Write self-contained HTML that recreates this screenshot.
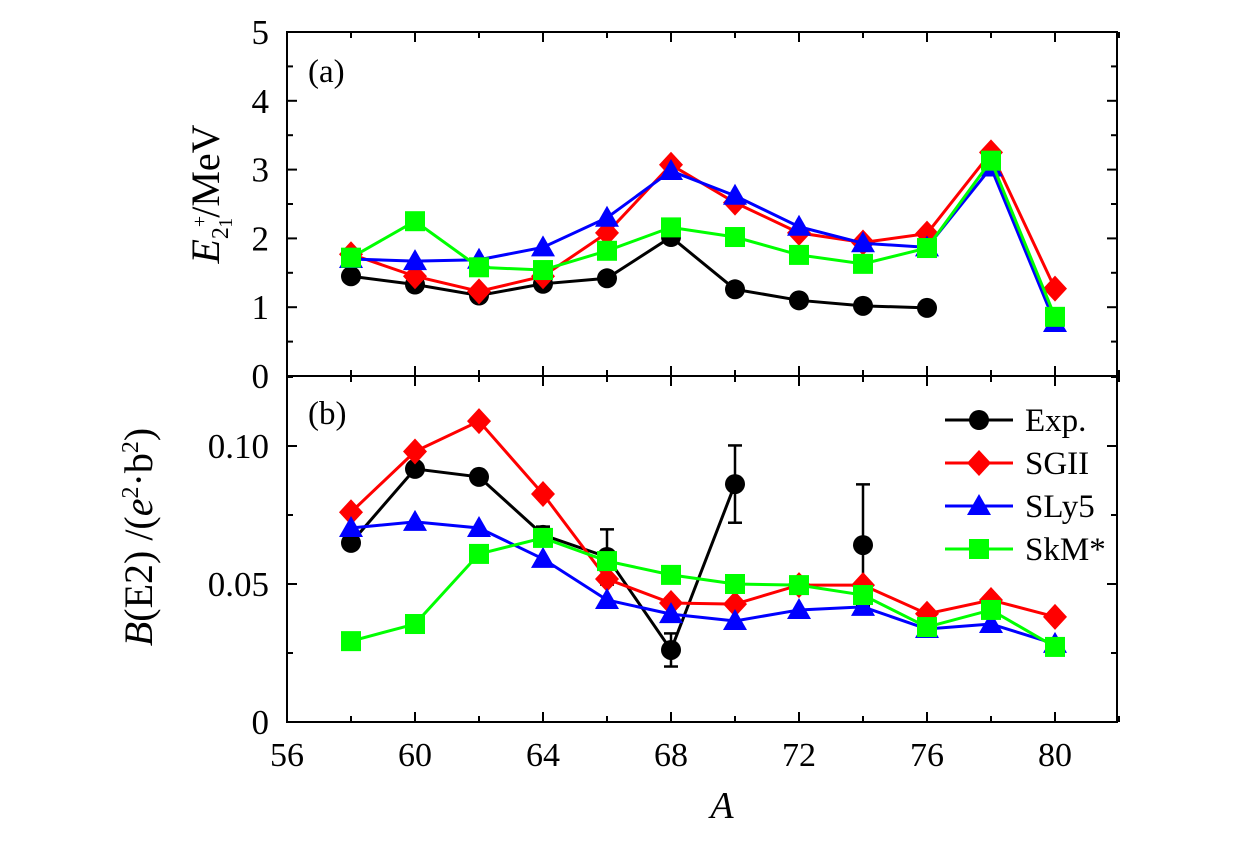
<!DOCTYPE html>
<html><head><meta charset="utf-8"><style>
body{margin:0;background:#fff;width:1260px;height:843px;overflow:hidden}
svg text{font-family:"Liberation Serif","DejaVu Serif",serif;fill:#000}
</style></head><body>
<svg id="chart" width="1260" height="843" xmlns="http://www.w3.org/2000/svg"></svg>
<script>
const xsA=[58,60,62,64,66,68,70,72,74,76,78,80];
const expA=[1.45,1.33,1.17,1.34,1.42,2.02,1.26,1.10,1.02,0.99,null,null];
const sgiiA=[1.77,1.45,1.23,1.45,2.08,3.07,2.52,2.08,1.94,2.07,3.25,1.27];
const sly5A=[1.70,1.67,1.69,1.87,2.30,2.98,2.62,2.17,1.93,1.87,3.03,0.77];
const skmA=[1.72,2.25,1.58,1.54,1.82,2.16,2.02,1.76,1.63,1.86,3.13,0.86];
const expB=[0.0649,0.0917,0.0888,0.0678,0.0598,0.0261,0.0862,null,0.0641,null,null,null];
const expBErr=[0,0,0.002,0.003,0.010,0.006,0.014,0,0.022,0,0,0];
const sgiiB=[0.076,0.098,0.109,0.0826,0.0518,0.0431,0.0427,0.0496,0.0496,0.0392,0.0442,0.0381];
const sly5B=[0.0703,0.0725,0.0703,0.0591,0.0442,0.0391,0.0366,0.0406,0.0417,0.0337,0.0355,0.0283];
const skmB=[0.0293,0.0355,0.0609,0.0667,0.0583,0.0533,0.0500,0.0496,0.0460,0.0344,0.0406,0.0272];
const xTicks=[56,60,64,68,72,76,80];
const yTicksA=[0,1,2,3,4,5];
const yTicksB=[0,0.05,0.10];
const yLabelsB=["0","0.05","0.10"];

const L=287,R=1117,T=32,M=376,B=722;
const X=v=>L+(v-56)*32;
const YA=v=>M-v*68.8;
const YB=v=>B-v*2760;
const svg=document.getElementById('chart');
const NS='http://www.w3.org/2000/svg';
function mk(tag,at,parent){const e=document.createElementNS(NS,tag);for(const k in at)e.setAttribute(k,at[k]);(parent||svg).appendChild(e);return e;}

let f=mk('rect',{x:L,y:T,width:R-L,height:B-T,fill:'none',stroke:'#000','stroke-width':2});

let dv=mk('line',{x1:L,x2:R,y1:M,y2:M,stroke:'#000','stroke-width':2});


for(let v=56;v<=82;v+=2){const x=X(v);const len=(v%4===0)?10:6;
 mk('line',{x1:x,x2:x,y1:B,y2:B-len,stroke:'#000','stroke-width':2});
 mk('line',{x1:x,x2:x,y1:M,y2:M-len,stroke:'#000','stroke-width':2});
 mk('line',{x1:x,x2:x,y1:M,y2:M+len,stroke:'#000','stroke-width':2});
 mk('line',{x1:x,x2:x,y1:T,y2:T+len,stroke:'#000','stroke-width':2});}
xTicks.forEach(v=>{const t=mk('text',{x:X(v),y:766,'font-size':34,'text-anchor':'middle'});t.textContent=v;
 });
for(let v=0;v<=5;v+=0.5){const y=YA(v);const len=(v%1===0)?10:6;
 mk('line',{x1:L,x2:L+len,y1:y,y2:y,stroke:'#000','stroke-width':2});
 mk('line',{x1:R,x2:R-len,y1:y,y2:y,stroke:'#000','stroke-width':2});}
yTicksA.forEach(v=>{const t=mk('text',{x:269,y:YA(v)+12,'font-size':35,'text-anchor':'end'});t.textContent=v;
 });
for(let v=0;v<=0.125;v+=0.025){const y=YB(v);const len=(Math.round(v*1000)%50===0)?10:6;
 mk('line',{x1:L,x2:L+len,y1:y,y2:y,stroke:'#000','stroke-width':2});
 mk('line',{x1:R,x2:R-len,y1:y,y2:y,stroke:'#000','stroke-width':2});}
yTicksB.forEach((v,i)=>{const t=mk('text',{x:269,y:YB(v)+12,'font-size':35,'text-anchor':'end'});t.textContent=yLabelsB[i];
 });

let t;
t=mk('text',{x:308,y:82,'font-size':33});t.textContent='(a)';
t=mk('text',{x:308,y:424,'font-size':33});t.textContent='(b)';
t=mk('text',{x:722,y:818,'font-size':38,'font-style':'italic','text-anchor':'middle'});t.textContent='A';
const ga=mk('g',{transform:'translate(219,194) rotate(-90)'});
t=mk('text',{x:0,y:0,'font-size':40,'text-anchor':'middle'},ga);
t.innerHTML='<tspan font-style="italic">E</tspan><tspan font-size="24" dy="9">2</tspan><tspan font-size="20" dy="-22">+</tspan><tspan font-size="20" dx="-12" dy="26">1</tspan><tspan dy="-13">/MeV</tspan>';
const gb=mk('g',{transform:'translate(152,537) rotate(-90)'});
t=mk('text',{x:0,y:0,'font-size':40,'text-anchor':'middle'},gb);
t.innerHTML='<tspan font-style="italic">B</tspan>(E2) /(<tspan font-style="italic">e</tspan><tspan font-size="24" dy="-14">2</tspan><tspan dy="14">·b</tspan><tspan font-size="24" dy="-14">2</tspan><tspan dy="14">)</tspan>';

function marker(shape,x,y,col,g){
 if(shape==='c')return mk('circle',{cx:x,cy:y,r:10,fill:col},g);
 if(shape==='d')return mk('polygon',{points:`${x},${y-13} ${x+12},${y} ${x},${y+13} ${x-12},${y}`,fill:col},g);
 if(shape==='t')return mk('polygon',{points:`${x},${y-12} ${x+12},${y+9} ${x-12},${y+9}`,fill:col},g);
 return mk('rect',{x:x-10,y:y-10,width:20,height:20,fill:col},g);
}
function series(name,vals,Y,col,shape,err){
 const g=mk('g',{});
 let seg=[];const segs=[];
 vals.forEach((v,i)=>{if(v==null){if(seg.length)segs.push(seg);seg=[];}else seg.push(X(xsA[i])+','+Y(v));});
 if(seg.length)segs.push(seg);
 segs.forEach(s=>mk('polyline',{points:s.join(' '),fill:'none',stroke:col,'stroke-width':3},g));
 if(err)vals.forEach((v,i)=>{if(v==null||!err[i])return;const x=X(xsA[i]);const y1=Y(v-err[i]),y2=Y(v+err[i]);
  mk('line',{x1:x,x2:x,y1:y1,y2:y2,stroke:col,'stroke-width':2.5},g);
  mk('line',{x1:x-7,x2:x+7,y1:y1,y2:y1,stroke:col,'stroke-width':2.5},g);
  mk('line',{x1:x-7,x2:x+7,y1:y2,y2:y2,stroke:col,'stroke-width':2.5},g);});
 vals.forEach((v,i)=>{if(v==null)return;const m=marker(shape,X(xsA[i]),Y(v),col,g);
  });
}
series('exp-a',expA,YA,'#000','c');
series('sgii-a',sgiiA,YA,'#f00','d');
series('sly5-a',sly5A,YA,'#00f','t');
series('skm-a',skmA,YA,'#0f0','s');
series('exp-b',expB,YB,'#000','c',expBErr);
series('sgii-b',sgiiB,YB,'#f00','d');
series('sly5-b',sly5B,YB,'#00f','t');
series('skm-b',skmB,YB,'#0f0','s');

const lg=[['Exp.','#000','c'],['SGII','#f00','d'],['SLy5','#00f','t'],['SkM*','#0f0','s']];
lg.forEach((e,i)=>{const y=420+i*43;const g=mk('g',{});
 mk('line',{x1:945,x2:1013,y1:y,y2:y,stroke:e[1],'stroke-width':3},g);marker(e[2],979,y,e[1],g);
 const tt=mk('text',{x:1025,y:y+11,'font-size':33},g);tt.textContent=e[0];});
</script>
</body></html>
